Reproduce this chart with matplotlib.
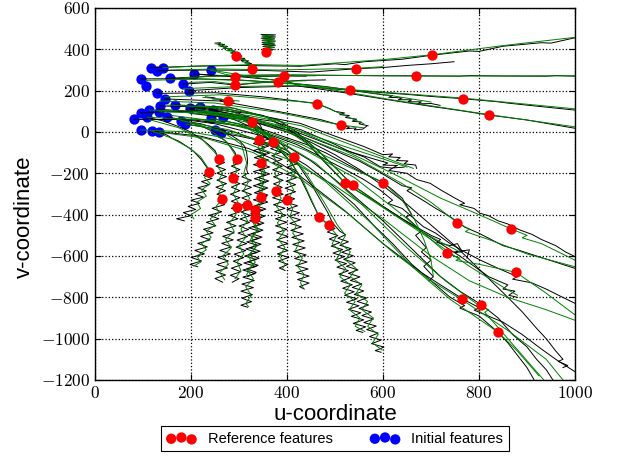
import matplotlib
matplotlib.use("Agg")
import matplotlib.pyplot as plt
from matplotlib.ticker import FuncFormatter

plt.rcParams['mathtext.fontset'] = 'cm'
plt.rcParams['font.family'] = ['Liberation Sans', 'DejaVu Sans']

# Initial feature positions (u, v)
init_u = [116, 141, 95, 106, 129, 156, 184, 196, 206, 241, 130, 146, 135, 167, 95, 113,
          81, 109, 134, 151, 179, 188, 198, 219, 241, 266, 246, 95, 118, 134, 249, 262]
init_v = [311, 311, 257, 224, 297, 260, 232, 200, 281, 300, 187, 160, 126, 131, 93, 106,
          61, 71, 98, 71, 55, 39, 115, 120, 66, 74, 106, 10, 5, -1, 10, -6]

# Reference feature positions (u, v)
ref_u = [703, 543, 669, 532, 767, 821, 462, 512, 294, 356, 327, 292, 292, 394, 382, 278,
         328, 342, 371, 259, 295, 346, 415, 237, 288, 264, 295, 316, 334, 334, 346, 377,
         401, 467, 487, 521, 537, 601, 755, 867, 733, 877, 765, 805, 840]
ref_v = [371, 306, 271, 202, 161, 82, 137, 32, 368, 389, 305, 268, 227, 271, 243, 152,
         50, -39, -47, -129, -131, -152, -119, -195, -222, -326, -364, -353, -377, -418, -316, -284,
         -329, -410, -450, -247, -258, -245, -439, -469, -587, -679, -806, -836, -969]

# Estimated tracks
black_tracks = [
    # upper group
    [(116, 311), (200, 318), (300, 322), (427, 318), (500, 330), (520, 326), (560, 340), (640, 352),
     (703, 372), (780, 392), (800, 390), (850, 415), (930, 432), (950, 430), (1000, 456)],
    [(129, 297), (230, 300), (350, 298), (450, 290), (543, 306), (600, 312), (620, 316), (650, 322),
     (700, 330), (748, 340)],
    [(156, 260), (260, 272), (380, 276), (500, 274), (600, 272), (669, 272), (760, 270), (780, 273),
     (850, 271), (940, 270), (960, 273), (1000, 270)],
    [(95, 257), (200, 258), (300, 252), (427, 232), (480, 220), (532, 203), (600, 190), (650, 182),
     (700, 172), (767, 161), (840, 146), (860, 140), (900, 130), (1000, 106)],
    [(206, 281), (300, 268), (400, 246), (427, 222), (520, 190), (600, 160), (700, 124), (760, 104),
     (821, 82), (900, 58), (1000, 18)],
    [(184, 232), (240, 240), (292, 227), (340, 238), (382, 243), (430, 250), (480, 252)],
    [(206, 281), (250, 272), (292, 268), (340, 268), (394, 271), (440, 270)],
    [(230, 170), (250, 165), (245, 160), (265, 158), (260, 150), (278, 152), (290, 145)],
    [(250, 430), (262, 432), (256, 422), (270, 424), (262, 414), (276, 414), (268, 404), (284, 404),
     (276, 394), (292, 392), (284, 382), (298, 380), (290, 370), (306, 368), (298, 358), (312, 356),
     (304, 346), (320, 344), (312, 334), (326, 332), (318, 322), (334, 320), (326, 314)],
    [(346, 472), (376, 470), (348, 464), (376, 460), (346, 454), (374, 450), (348, 444), (376, 440),
     (348, 434), (374, 430), (348, 424), (376, 420), (350, 414), (374, 410), (350, 404), (372, 400),
     (352, 394), (366, 390), (356, 386)],
    [(130, 187), (250, 190), (350, 170), (420, 150), (462, 137), (490, 112), (500, 100), (520, 92),
     (510, 84), (530, 80), (522, 70), (545, 62), (536, 52), (555, 48), (550, 40), (569, 30)],
    [(146, 160), (260, 150), (380, 100), (470, 60), (512, 32), (530, 24), (524, 16), (544, 20),
     (540, 10), (558, 14), (566, 28)],
    [(196, 200), (300, 215), (420, 222), (532, 202), (600, 180), (620, 176), (612, 168), (640, 165),
     (632, 156), (660, 156), (652, 146), (680, 146), (672, 136), (700, 138), (719, 129)],
    [(210, 118), (320, 90), (427, 42), (500, -20), (560, -70), (600, -110), (620, -106), (612, -120),
     (636, -124), (628, -138), (652, -140), (644, -154), (668, -160), (670, -176)],
    [(200, 90), (310, 60), (420, 0), (510, -80), (580, -130), (610, -150), (600, -160), (630, -162),
     (620, -174), (644, -170)],
    # vertical bundles
    [(134, -1), (150, -15), (160, -30), (175, -45), (185, -60), (198, -80), (206, -95), (214, -115),
     (222, -135), (228, -155), (234, -175), (237, -195), (226, -210), (244, -225), (222, -240),
     (238, -255), (214, -270), (232, -285), (208, -300), (226, -315), (200, -330), (218, -345),
     (194, -360), (210, -375), (184, -390), (200, -405), (170, -420), (186, -430)],
    [(109, 71), (140, 55), (170, 30), (195, 5), (220, -30), (236, -60), (250, -90), (258, -131),
     (270, -148), (252, -165), (272, -182), (254, -199), (274, -216), (254, -233), (274, -250),
     (252, -267), (272, -284), (254, -301), (274, -318), (256, -335), (270, -352), (244, -369),
     (264, -386), (238, -403), (258, -420), (232, -437), (252, -454), (226, -471), (246, -488),
     (220, -505), (240, -522), (214, -539), (234, -556), (208, -573), (228, -590), (200, -607),
     (222, -624), (198, -641), (214, -652)],
    [(151, 71), (190, 50), (220, 30), (248, 0), (270, -40), (284, -75), (292, -100), (295, -131),
     (304, -148), (284, -165), (302, -182), (282, -199), (300, -216), (282, -233), (302, -250),
     (284, -267), (302, -284), (282, -301), (302, -318), (284, -335), (304, -352), (284, -369),
     (302, -386), (280, -403), (298, -420), (274, -437), (294, -454), (270, -471), (290, -488),
     (266, -505), (288, -522), (264, -539), (284, -556), (260, -573), (282, -590), (256, -607),
     (278, -624), (254, -641), (276, -658), (252, -675), (272, -692), (250, -709), (266, -727)],
    [(179, 55), (220, 40), (250, 20), (280, -10), (300, -40), (312, -70), (316, -100), (318, -140),
     (316, -180), (318, -200), (306, -217), (326, -234), (306, -251), (326, -268), (306, -285),
     (326, -302), (306, -319), (324, -336), (306, -353), (326, -370), (304, -387), (324, -404),
     (302, -421), (322, -438), (300, -455), (320, -472), (298, -489), (318, -506), (296, -523),
     (316, -540), (294, -557), (314, -574), (290, -591), (310, -608), (288, -625), (306, -642),
     (284, -659), (304, -676), (282, -693), (300, -710), (286, -727)],
    [(198, 115), (240, 105), (280, 90), (310, 70), (328, 50), (336, 10), (342, -39), (330, -56),
     (354, -73), (330, -90), (356, -107), (332, -124), (356, -141), (330, -158), (354, -175),
     (330, -192), (356, -209), (332, -226), (356, -243), (330, -260), (354, -277), (332, -294),
     (358, -311), (330, -328), (352, -345), (326, -362), (350, -379), (324, -396), (348, -413),
     (322, -430), (346, -447), (320, -464), (344, -481), (318, -498), (342, -515), (316, -532),
     (340, -549), (314, -566), (338, -583), (312, -600), (336, -617), (310, -634), (336, -651),
     (308, -668), (334, -685), (308, -702), (332, -719), (306, -736), (330, -753), (304, -770),
     (328, -787), (306, -804), (326, -821), (304, -838), (318, -848)],
    [(219, 120), (260, 110), (300, 90), (330, 65), (345, 30), (350, 0), (340, -17), (362, -34),
     (338, -51), (362, -68), (340, -85), (364, -102), (340, -119), (362, -136), (340, -152),
     (364, -169), (342, -186), (364, -203), (340, -220), (362, -237), (338, -254), (360, -271),
     (338, -288), (360, -305), (344, -322), (360, -339), (334, -356), (356, -373), (332, -390),
     (354, -407), (332, -424), (352, -441), (328, -458), (350, -475), (326, -492), (348, -509),
     (324, -526), (346, -543), (322, -560), (344, -577), (320, -594), (342, -611), (318, -628),
     (340, -645), (316, -662), (336, -679), (318, -700)],
    [(246, 106), (290, 85), (320, 60), (350, 10), (371, -47), (384, -64), (366, -81), (388, -98),
     (368, -115), (390, -132), (370, -149), (390, -166), (370, -183), (392, -200), (372, -217),
     (392, -234), (372, -251), (390, -268), (372, -284), (392, -301), (370, -318), (394, -335),
     (372, -352), (396, -369), (374, -386), (398, -403), (376, -420), (400, -437), (376, -454),
     (400, -471), (378, -488), (402, -505), (378, -522), (402, -539), (380, -556), (402, -573),
     (380, -590), (404, -607), (382, -624), (402, -641), (384, -658), (396, -670)],
    [(262, -6), (300, -20), (340, -40), (370, -60), (400, -90), (415, -119), (402, -136), (422, -153),
     (400, -170), (420, -187), (398, -204), (420, -221), (398, -238), (418, -255), (396, -272),
     (418, -289), (396, -306), (416, -323), (398, -340), (422, -357), (400, -374), (426, -391),
     (404, -408), (428, -425), (406, -442), (430, -459), (408, -476), (434, -493), (410, -510),
     (436, -527), (412, -544), (438, -561), (414, -578), (440, -595), (416, -612), (442, -629),
     (418, -646), (444, -663), (420, -680), (446, -697), (422, -714), (446, -731), (426, -748),
     (436, -760)],
    [(190, 108), (240, 90), (290, 60), (330, 20), (360, -30), (385, -90), (410, -150), (425, -210),
     (440, -280), (452, -340), (467, -410), (487, -450), (500, -467), (484, -484), (506, -501),
     (488, -518), (510, -535), (492, -552), (516, -569), (496, -586), (520, -603), (500, -620),
     (524, -637), (504, -654), (528, -671), (508, -688), (532, -705), (512, -722), (536, -739),
     (516, -756), (540, -773), (520, -790), (546, -807), (524, -824), (550, -841), (528, -858),
     (554, -875), (534, -892), (560, -909), (538, -926), (564, -943), (544, -960), (558, -970)],
    [(200, 107), (250, 90), (300, 70), (340, 20), (380, -40), (410, -110), (430, -180), (450, -250),
     (470, -330), (485, -390), (495, -440), (510, -480), (522, -497), (506, -514), (528, -531),
     (510, -548), (534, -565), (514, -582), (538, -599), (518, -616), (542, -633), (524, -650),
     (548, -667), (528, -684), (552, -701), (532, -718), (556, -735), (536, -752), (560, -769),
     (540, -786), (566, -803), (546, -820), (570, -837), (550, -854), (576, -871), (556, -888),
     (580, -905), (560, -922), (586, -939), (566, -956), (590, -973), (572, -990), (596, -1007),
     (576, -1024), (602, -1041), (584, -1058), (596, -1066)],
    # diagonal fan
    [(95, 93), (150, 98), (200, 100), (250, 92), (300, 80), (340, 62), (370, 52), (400, 30), (430, 10),
     (460, -20), (500, -60), (530, -95), (560, -120), (594, -168), (620, -175), (612, -186), (650, -200),
     (670, -230), (698, -248), (720, -280), (750, -320), (770, -345), (760, -352), (790, -370),
     (802, -393), (820, -405), (840, -430), (860, -445), (885, -474), (910, -495), (930, -520),
     (960, -550), (980, -580), (1000, -603)],
    [(130, 110), (240, 95), (300, 78), (340, 55), (400, 10), (450, -40), (500, -90), (550, -140),
     (590, -190), (640, -260), (660, -270), (650, -284), (690, -340), (710, -370), (740, -410),
     (770, -460), (800, -490), (850, -550), (880, -570), (920, -600), (960, -630), (1000, -660)],
    [(81, 61), (200, 60), (300, 30), (360, -10), (420, -60), (470, -120), (520, -180), (560, -230),
     (594, -281), (620, -330), (610, -345), (640, -370), (660, -410), (684, -458), (710, -490),
     (740, -540), (770, -580), (802, -619), (840, -660), (880, -700), (870, -712), (910, -730),
     (940, -760), (970, -795), (1000, -829)],
    [(118, 5), (220, -20), (320, -80), (370, -130), (420, -200), (470, -290), (520, -380), (560, -460),
     (600, -540), (640, -610), (680, -680), (720, -740), (765, -806), (800, -850), (790, -862),
     (850, -920), (890, -980), (930, -1050), (960, -1100), (1000, -1160)],
    [(151, 71), (250, 40), (350, -20), (400, -70), (450, -140), (500, -230), (550, -330), (600, -430),
     (640, -520), (680, -610), (720, -700), (760, -770), (805, -836), (840, -900), (870, -980),
     (900, -1040), (920, -1100), (940, -1150), (954, -1200)],
    [(188, 39), (290, 0), (340, -40), (390, -90), (440, -160), (490, -250), (540, -350), (580, -450),
     (620, -540), (660, -640), (700, -720), (740, -800), (770, -840), (760, -852), (800, -890),
     (840, -969), (860, -1020), (880, -1080), (900, -1140), (915, -1200)],
    [(200, 107), (300, 70), (400, 0), (450, -50), (500, -110), (550, -180), (600, -260), (650, -350),
     (700, -450), (750, -550), (790, -640), (825, -720), (860, -800), (890, -870), (920, -950),
     (940, -1000), (960, -1060), (975, -1100), (965, -1110), (985, -1130), (975, -1140)],
    [(135, 126), (250, 120), (350, 80), (400, 20), (440, -50), (480, -150), (521, -247), (550, -290),
     (580, -330), (610, -375), (640, -420), (670, -460), (700, -500), (720, -520), (712, -534),
     (740, -550), (755, -540), (765, -580), (748, -582), (780, -570), (775, -610)],
    [(167, 131), (280, 120), (380, 60), (420, 0), (460, -80), (500, -170), (537, -258), (570, -310),
     (600, -360), (640, -420), (680, -480), (720, -540), (760, -600), (790, -650), (820, -700),
     (840, -720), (860, -740), (850, -760), (875, -770), (862, -790), (880, -800)],
    [(241, 66), (340, 20), (390, -20), (440, -60), (480, -100), (520, -150), (560, -200), (601, -245),
     (620, -280), (640, -320), (650, -360), (660, -400), (648, -410), (680, -480), (668, -500),
     (690, -560), (680, -580), (700, -620), (685, -650), (705, -700), (695, -720)],
]

# Ground-truth tracks
green_tracks = [
    # upper group
    [(141, 311), (220, 320), (330, 326), (430, 322), (600, 350), (703, 374), (850, 418), (1000, 458)],
    [(156, 300), (260, 305), (380, 300), (543, 308), (600, 316)],
    [(184, 262), (280, 274), (400, 276), (560, 273), (669, 271), (820, 271), (1000, 272)],
    [(106, 250), (220, 256), (320, 248), (440, 228), (532, 205), (767, 164), (1000, 112)],
    [(241, 300), (320, 270), (430, 230), (620, 155), (821, 84), (1000, 25)],
    [(196, 240), (250, 244), (292, 230), (350, 240), (382, 245), (440, 248)],
    [(241, 300), (270, 280), (292, 270), (350, 270), (394, 273), (460, 272)],
    [(225, 168), (278, 154), (300, 150)],
    [(252, 426), (266, 426), (258, 416), (274, 416), (266, 406), (282, 404), (274, 394), (290, 392),
     (282, 382), (298, 378), (290, 368), (306, 364), (298, 354), (314, 350), (306, 340), (322, 336),
     (316, 326), (332, 320)],
    [(350, 468), (372, 466), (350, 456), (374, 452), (350, 444), (374, 438), (350, 430), (374, 424),
     (352, 416), (372, 410), (354, 402), (370, 396), (358, 392)],
    [(146, 170), (260, 180), (360, 160), (462, 140), (510, 90), (560, 40)],
    [(135, 150), (250, 140), (380, 95), (512, 34), (560, 20)],
    [(184, 210), (300, 220), (420, 225), (532, 204), (620, 175), (700, 145)],
    [(215, 100), (320, 80), (430, 30), (520, -50), (600, -120), (663, -176)],
    [(190, 95), (300, 70), (420, 10), (520, -70), (600, -130), (650, -170)],
    # vertical bundles
    [(118, 5), (160, -30), (195, -75), (220, -120), (240, -190), (228, -220), (240, -250), (222, -280),
     (232, -310), (212, -340), (220, -370), (200, -400), (206, -420)],
    [(113, 60), (175, 20), (225, -40), (250, -100), (262, -140), (256, -170), (266, -200), (258, -230),
     (268, -260), (258, -290), (266, -326), (252, -360), (258, -390), (240, -420), (250, -450),
     (232, -480), (242, -510), (222, -540), (232, -570), (212, -600), (220, -630), (206, -648)],
    [(167, 65), (230, 25), (275, -50), (292, -110), (288, -150), (296, -190), (286, -222), (296, -260),
     (288, -300), (298, -340), (290, -364), (294, -400), (280, -440), (290, -480), (272, -520),
     (284, -560), (266, -600), (278, -640), (260, -680), (270, -715)],
    [(188, 39), (260, 10), (305, -60), (316, -150), (310, -200), (320, -240), (310, -280), (322, -320),
     (316, -353), (308, -390), (318, -430), (304, -470), (314, -510), (300, -550), (310, -590),
     (296, -630), (304, -670), (292, -710)],
    [(214, 130), (290, 95), (335, 40), (345, -40), (340, -80), (352, -120), (342, -152), (354, -190),
     (342, -230), (352, -270), (342, -316), (346, -350), (334, -377), (344, -400), (330, -430),
     (340, -470), (326, -510), (338, -550), (322, -590), (334, -630), (318, -670), (330, -710),
     (314, -750), (326, -790), (314, -830), (320, -845)],
    [(241, 66), (300, 40), (340, -10), (352, -80), (346, -120), (356, -160), (346, -200), (354, -240),
     (342, -280), (350, -320), (336, -360), (344, -400), (330, -440), (338, -480), (324, -520),
     (334, -560), (320, -600), (328, -640), (316, -690)],
    [(266, 74), (330, 40), (372, -40), (382, -80), (372, -120), (384, -160), (374, -200), (386, -240),
     (377, -284), (388, -320), (378, -360), (392, -400), (380, -440), (394, -480), (382, -520),
     (396, -560), (384, -600), (396, -640), (390, -665)],
    [(249, 10), (330, -30), (395, -80), (413, -119), (406, -160), (416, -200), (404, -240), (414, -280),
     (401, -329), (412, -370), (406, -410), (420, -450), (412, -490), (426, -530), (418, -570),
     (432, -610), (422, -650), (436, -690), (428, -730), (434, -755)],
    [(210, 112), (300, 75), (380, -60), (430, -220), (467, -410), (490, -460), (504, -500), (494, -540),
     (512, -580), (502, -620), (522, -660), (510, -700), (532, -740), (520, -780), (542, -820),
     (530, -860), (552, -900), (542, -940), (562, -965)],
    [(205, 100), (310, 60), (390, -60), (440, -200), (480, -350), (505, -450), (522, -500), (512, -540),
     (532, -580), (522, -620), (544, -660), (532, -700), (556, -740), (544, -780), (568, -820),
     (556, -860), (580, -900), (568, -940), (590, -980), (578, -1020), (598, -1055)],
    # diagonal fan
    [(113, 106), (220, 100), (320, 70), (420, 10), (520, -90), (620, -200), (720, -320), (800, -400),
     (867, -469), (900, -500), (890, -512), (930, -540), (1000, -620)],
    [(134, 98), (240, 90), (340, 50), (440, -30), (540, -120), (640, -250), (700, -340), (755, -439),
     (780, -470), (772, -482), (820, -520), (900, -590), (1000, -652)],
    [(109, 71), (220, 60), (320, 20), (440, -90), (540, -220), (640, -400), (733, -587), (760, -610),
     (752, -622), (800, -640), (877, -679), (940, -780), (1000, -885)],
    [(95, 10), (200, 0), (300, -40), (400, -130), (500, -260), (600, -420), (700, -600), (780, -720),
     (860, -800), (940, -860), (1000, -911)],
    [(134, -1), (230, -30), (330, -100), (430, -230), (530, -400), (620, -580), (700, -720), (770, -820),
     (860, -960), (940, -1100), (975, -1200)],
    [(160, 80), (260, 50), (360, -10), (460, -150), (560, -360), (650, -560), (730, -720), (800, -840),
     (820, -860), (812, -872), (860, -1000), (905, -1120), (935, -1200)],
    [(179, 55), (280, 10), (380, -80), (480, -240), (575, -440), (660, -650), (740, -810), (840, -969),
     (880, -1060), (925, -1180)],
    [(150, 130), (260, 120), (360, 70), (450, -70), (521, -247), (590, -350), (650, -440), (710, -520),
     (760, -580)],
    [(190, 125), (290, 115), (390, 50), (470, -100), (537, -258), (610, -380), (700, -520), (780, -650),
     (850, -750), (880, -790)],
    [(230, 60), (330, 20), (430, -60), (520, -160), (601, -245), (640, -330), (665, -420), (685, -520),
     (700, -620), (705, -700)],
]

fig = plt.figure(figsize=(6.18, 4.57), dpi=100)
ax = fig.add_axes([0.1537, 0.1685, 0.7767, 0.814])

ax.scatter(init_u, init_v, s=55, c='#0000ff', linewidths=0, zorder=1, label='Initial features')
for track in black_tracks:
    u, v = zip(*track)
    ax.plot(u, v, color='k', lw=0.7, zorder=2)
for track in green_tracks:
    u, v = zip(*track)
    ax.plot(u, v, color='#008000', lw=0.7, zorder=2)
ax.scatter(ref_u, ref_v, s=55, c='#ff0000', linewidths=0, zorder=3, label='Reference features')

ax.set_xlim(0, 1000)
ax.set_ylim(-1200, 600)
ax.set_xticks(range(0, 1001, 200))
ax.set_yticks(range(-1200, 601, 200))
fmt = FuncFormatter(lambda val, pos: r'$%d$' % val)
ax.xaxis.set_major_formatter(fmt)
ax.yaxis.set_major_formatter(fmt)
ax.tick_params(direction='in', top=True, right=True, length=4, labelsize=12.5)
ax.grid(True, color='k', linestyle=':', linewidth=0.9)
for sp in ax.spines.values():
    sp.set_linewidth(1.0)

ax.set_xlabel('u-coordinate', fontsize=16, labelpad=2)
ax.set_ylabel('v-coordinate', fontsize=16)
ax.yaxis.set_label_coords(-0.125, 0.44)

handles, labels = ax.get_legend_handles_labels()
leg = ax.legend(handles[::-1], labels[::-1], loc='upper center', bbox_to_anchor=(0.5, -0.123),
                ncol=2, scatterpoints=3, scatteryoffsets=[0.375, 0.5, 0.3125],
                fontsize=10.5, fancybox=False, borderaxespad=0, framealpha=1,
                edgecolor='k', columnspacing=2.6, handletextpad=0.8)
leg.get_frame().set_linewidth(0.8)

fig.savefig('out.png', dpi=100)
